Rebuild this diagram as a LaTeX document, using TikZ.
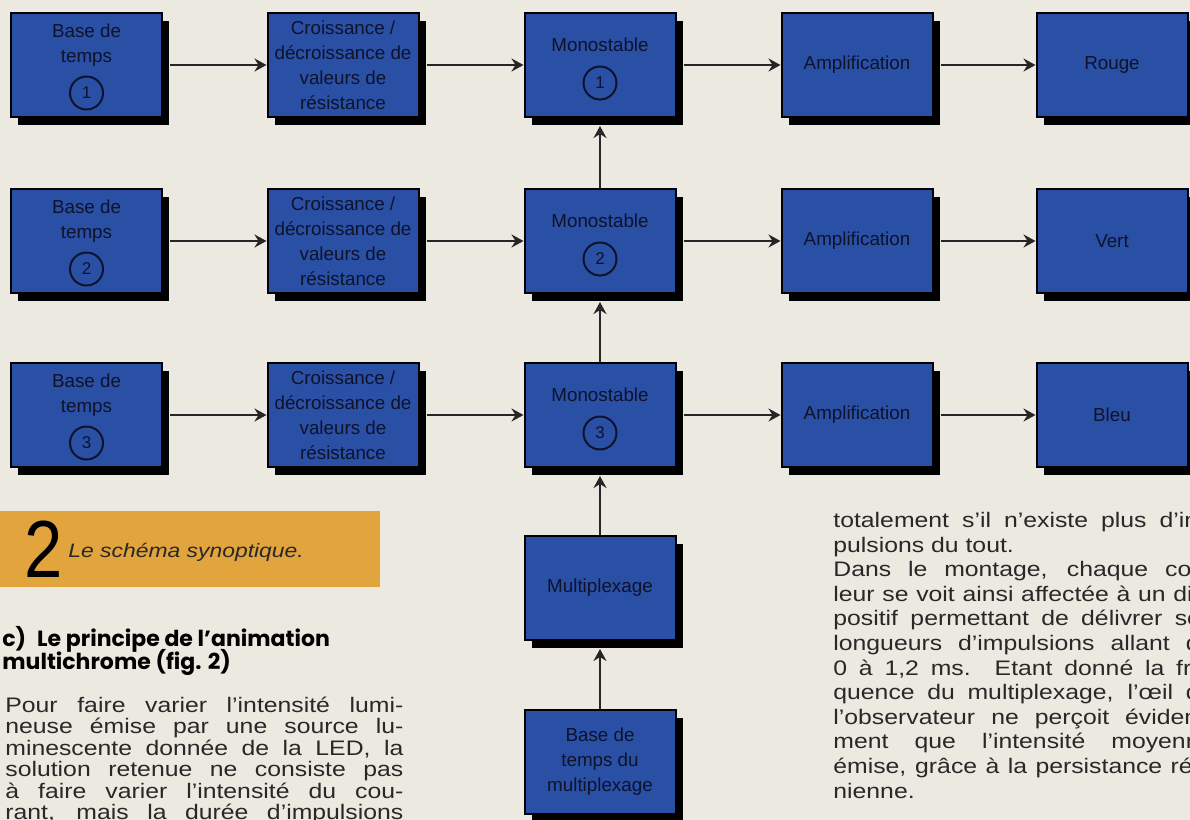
\documentclass[tikz,border=0pt]{standalone}
\usepackage{fontspec}
\setmainfont{Liberation Sans}
\newfontfamily\textefont{Liberation Sans}[FakeStretch=1.18]
\newfontfamily\chiffrefont{Liberation Sans}[FakeStretch=0.85]
\newfontfamily\titrefont{Poppins}
\usetikzlibrary{positioning, arrows.meta, shadows}

\definecolor{papier}{RGB}{236,233,225}
\definecolor{bleubloc}{RGB}{42,80,166}
\definecolor{encre}{RGB}{14,18,42}
\definecolor{bandeau}{RGB}{226,164,60}
\definecolor{texte}{RGB}{40,40,40}

\begin{document}
\begin{tikzpicture}[x=0.5pt, y=-0.5pt, >={Stealth[length=6pt, width=6.5pt, inset=2pt]},
    bloc/.style={draw=black, line width=1pt, fill=bleubloc, minimum width=75.5pt, minimum height=52pt,
      inner sep=0pt, align=center, text=encre, font=\fontsize{9.4}{12.5}\selectfont,
      drop shadow={shadow xshift=3.5pt, shadow yshift=-4pt, fill=black, opacity=1}},
    bloctxt/.style={text=encre, font=\fontsize{9.4}{12.5}\selectfont, align=center, inner sep=0pt},
    numc/.style={circle, draw=encre, line width=1pt, minimum size=16.5pt, inner sep=0pt,
      text=encre, font=\fontsize{8.5}{10}\selectfont},
    fleche/.style={->, line width=1pt, draw=black!85},
    corps/.style={anchor=base west, inner sep=0pt, text=texte, font=\textefont\fontsize{10.5}{12}\selectfont}]

    % --- fond et cadre ---
    \fill[papier] (0,0) rectangle (1190,820);
    \useasboundingbox (0,0) rectangle (1190,820);
    \clip (0,0) rectangle (1190,820);

    % --- rangée 1 ---
    \node[bloc] (B1) at (86.5,65) {};
    \node[bloctxt] (B1t) at (86.5,45.5) {Base de\\temps};
    \node[numc] (B1n) at (86.5,93) {1};
    \node[bloc] (C1) at (343,65) {Croissance /\\décroissance de\\valeurs de\\résistance};
    \node[bloc] (M1) at (600,65) {};
    \node[bloctxt] (M1t) at (600,45) {Monostable};
    \node[numc] (M1n) at (600,83) {1};
    \node[bloc] (A1) at (857,65) {Amplification};
    \node[bloc] (R1) at (1112,65) {Rouge};

    % --- rangée 2 ---
    \node[bloc] (B2) at (86.5,241) {};
    \node[bloctxt] (B2t) at (86.5,221.5) {Base de\\temps};
    \node[numc] (B2n) at (86.5,269) {2};
    \node[bloc] (C2) at (343,241) {Croissance /\\décroissance de\\valeurs de\\résistance};
    \node[bloc] (M2) at (600,241) {};
    \node[bloctxt] (M2t) at (600,221) {Monostable};
    \node[numc] (M2n) at (600,259) {2};
    \node[bloc] (A2) at (857,241) {Amplification};
    \node[bloc] (R2) at (1112,241) {Vert};

    % --- rangée 3 ---
    \node[bloc] (B3) at (86.5,415) {};
    \node[bloctxt] (B3t) at (86.5,395.5) {Base de\\temps};
    \node[numc] (B3n) at (86.5,443) {3};
    \node[bloc] (C3) at (343,415) {Croissance /\\décroissance de\\valeurs de\\résistance};
    \node[bloc] (M3) at (600,415) {};
    \node[bloctxt] (M3t) at (600,395) {Monostable};
    \node[numc] (M3n) at (600,433) {3};
    \node[bloc] (A3) at (857,415) {Amplification};
    \node[bloc] (R3) at (1112,415) {Bleu};

    % --- multiplexage ---
    \node[bloc] (X) at (600,588) {Multiplexage};
    \node[bloc] (BX) at (600,762) {Base de\\temps du\\multiplexage};

    % --- liaisons ---
    \draw[fleche, shorten <=3.5pt] (B1) -- (C1);
    \draw[fleche, shorten <=3.5pt] (C1) -- (M1);
    \draw[fleche, shorten <=3.5pt] (M1) -- (A1);
    \draw[fleche, shorten <=3.5pt] (A1) -- (R1);
    \draw[fleche, shorten <=3.5pt] (B2) -- (C2);
    \draw[fleche, shorten <=3.5pt] (C2) -- (M2);
    \draw[fleche, shorten <=3.5pt] (M2) -- (A2);
    \draw[fleche, shorten <=3.5pt] (A2) -- (R2);
    \draw[fleche, shorten <=3.5pt] (B3) -- (C3);
    \draw[fleche, shorten <=3.5pt] (C3) -- (M3);
    \draw[fleche, shorten <=3.5pt] (M3) -- (A3);
    \draw[fleche, shorten <=3.5pt] (A3) -- (R3);
    \draw[fleche, shorten >=4pt] (M2) -- (M1);
    \draw[fleche, shorten >=4pt] (M3) -- (M2);
    \draw[fleche, shorten >=4pt] (X) -- (M3);
    \draw[fleche, shorten >=4pt] (BX) -- (X);

    % --- légende de la figure ---
    \fill[bandeau] (0,511) rectangle (380,587);
    \node[anchor=base west, inner sep=0pt, text=black, font=\chiffrefont\fontsize{40.5}{40}\selectfont] (fig) at (24,577) {2};
    \node[anchor=base west, inner sep=0pt, text=texte, font=\textefont\itshape\fontsize{9.7}{12}\selectfont] (leg) at (68,557) {Le schéma synoptique.};

    % --- texte, colonne de gauche ---
    \node[anchor=base west, inner sep=0pt, text=black, font=\titrefont\bfseries\fontsize{11}{12}\selectfont] (tit1) at (2,646) {c)\enspace Le principe de l’animation};
    \node[anchor=base west, inner sep=0pt, text=black, font=\titrefont\bfseries\fontsize{11}{12}\selectfont] (tit2) at (2,669) {multichrome (fig. 2)};
    \foreach \ligne/\mode [count=\i] in {{Pour faire varier l’intensité lumi-}/s, {neuse émise par une source lu-}/s,
        {minescente donnée de la LED, la}/s, {solution retenue ne consiste pas}/s,
        {à faire varier l’intensité du cou-}/s, {rant, mais la durée d’impulsions}/s}
      \node[corps] (g\i) at (5,690.5+21.5*\i) {\makebox[199pt][\mode]{\ligne}};

    % --- texte, colonne de droite ---
    \foreach \ligne/\mode [count=\i] in {{totalement s’il n’existe plus d’im-}/s, {pulsions du tout.}/l,
        {Dans le montage, chaque cou-}/s, {leur se voit ainsi affectée à un dis-}/s,
        {positif permettant de délivrer ses}/s, {longueurs d’impulsions allant de}/s,
        {0 à 1,2 ms. Etant donné la fré-}/s, {quence du multiplexage, l’\oe il de}/s,
        {l’observateur ne perçoit évidem-}/s, {ment que l’intensité moyenne}/s,
        {émise, grâce à la persistance réti-}/s, {nienne.}/l}
      \node[corps] (d\i) at (833,502.9+24.6*\i) {\makebox[190pt][\mode]{\ligne}};

\end{tikzpicture}
\end{document}
